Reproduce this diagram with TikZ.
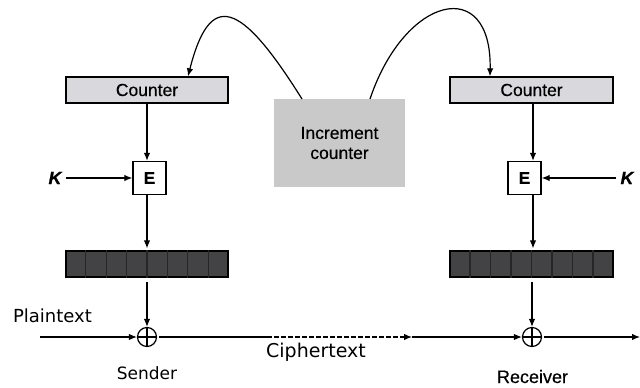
\documentclass[tikz,border=0pt]{standalone}
\usepackage{fontspec}
\usetikzlibrary{arrows.meta,calc}
\newfontfamily\arialf[FakeBold=0.4]{Liberation Sans}
\newfontfamily\verdf{DejaVu Sans}
\definecolor{ctrfill}{HTML}{D9D9DD}
\definecolor{incfill}{HTML}{C9C9C9}
\definecolor{regfill}{HTML}{434346}
\tikzset{
  x=1pt, y=-1pt,
  conn/.style={line width=1.2pt, -{Latex[length=8pt,width=6.5pt]}},
  plainline/.style={line width=1.2pt},
  ctrbox/.style={draw, line width=1.3pt, fill=ctrfill, minimum width=162pt, minimum height=26pt, inner sep=0pt, font=\arialf\fontsize{17.5}{20}\selectfont},
  incbox/.style={fill=incfill, minimum width=131pt, minimum height=88pt, inner sep=0pt, align=center, font=\arialf\fontsize{17.5}{20}\selectfont},
  ebox/.style={draw, line width=1.3pt, fill=white, minimum width=33pt, minimum height=33pt, inner sep=0pt, font=\arialf\bfseries\fontsize{17}{20}\selectfont},
  keylabel/.style={inner sep=0pt, font=\arialf\bfseries\itshape\fontsize{18}{20}\selectfont},
  regbox/.style={draw, line width=1.2pt, fill=regfill, minimum width=162pt, minimum height=26pt, inner sep=0pt},
  xorc/.style={circle, draw, line width=1.2pt, minimum size=19pt, inner sep=0pt,
    path picture={\draw[line width=1.2pt] (path picture bounding box.north) -- (path picture bounding box.south)
      (path picture bounding box.west) -- (path picture bounding box.east);}},
  vlabel/.style={inner sep=0pt, anchor=base, font=\verdf\fontsize{18}{20}\selectfont},
  alabel/.style={inner sep=0pt, anchor=base, font=\arialf\fontsize{18}{20}\selectfont},
}
\begin{document}
\begin{tikzpicture}
\useasboundingbox (0,0) rectangle (640,388);
\fill[white] (0,0) rectangle (640,388);

% helper x positions
\coordinate (xa) at (188,0);
\coordinate (xb) at (490,0);
\coordinate (xl) at (147,0);
\coordinate (xr) at (533,0);

% counters
\node[ctrbox] (cL) at (147,90) {Counter};
\node[ctrbox, minimum width=163pt] (cR) at (531.5,90) {Counter};

% increment box
\node[incbox] (inc) at (339.5,143) {Increment\\counter};

% E boxes
\node[ebox] (eL) at (149.5,178) {E};
\node[ebox] (eR) at (524.5,178) {E};

% keys
\node[keylabel] (kL) at (55,178) {K};
\node[keylabel] (kR) at (627,178) {K};

% registers
\node[regbox] (regL) at (147,264) {};
\node[regbox, minimum width=163pt] (regR) at (531.5,264) {};
\foreach \i in {1,...,7} {
  \draw[line width=1.2pt, black!85] ($(regL.north west)!\i/8!(regL.north east)$) -- ($(regL.south west)!\i/8!(regL.south east)$);
  \draw[line width=1.2pt, black!85] ($(regR.north west)!\i/8!(regR.north east)$) -- ($(regR.south west)!\i/8!(regR.south east)$);
}

% XORs
\node[xorc] (xL) at (147,337) {};
\node[xorc] (xR) at (532,337) {};

% coordinates for the ciphertext line
\coordinate (pin) at (40,337);
\coordinate (d1) at (267,337);
\coordinate (d2) at (412,337);
\coordinate (pout) at (640,337);

% curves from increment box
\coordinate (incL) at (302,99);
\coordinate (incR) at (370,99);
\draw[conn] (incL) .. controls (240,0) and (210,-10) .. (cL.north -| xa);
\draw[conn] (incR) .. controls (405,-5) and (492,-25) .. (cR.north -| xb);

% vertical arrows
\draw[conn] (cL.south -| xl) -- (eL.north -| xl);
\draw[conn] (cR.south -| xr) -- (eR.north -| xr);
\draw[conn, shorten >=2pt] (eL.south -| xl) -- (regL.north);
\draw[conn, shorten >=2pt] (eR.south -| xr) -- (regR.north -| xr);
\draw[conn, shorten <=4pt] (regL.south) -- (xL.north);
\draw[conn, shorten <=4pt] (regR.south -| xR) -- (xR.north);

% key arrows
\draw[conn, shorten <=4pt] (kL.east) -- (eL.west);
\draw[conn, shorten <=4pt] (kR.west) -- (eR.east);

% horizontal line
\draw[conn] (pin) -- (xL.west);
\draw[plainline, shorten <=2pt] (xL.east) -- (d1);
\draw[conn, dash pattern=on 5pt off 2pt] (d1) -- (d2);
\draw[conn] (d2) -- (xR.west);
\draw[conn, shorten <=2pt] (xR.east) -- (pout);

% labels
\node[vlabel] (pt) at (52.5,322) {Plaintext};
\node[vlabel, font=\verdf\fontsize{19}{20}\selectfont] (ct) at (316,357) {Ciphertext};
\node[vlabel, font=\verdf\fontsize{17}{20}\selectfont] (snd) at (147,379) {Sender};
\node[alabel] (rcv) at (532.5,383) {Receiver};
\end{tikzpicture}
\end{document}
